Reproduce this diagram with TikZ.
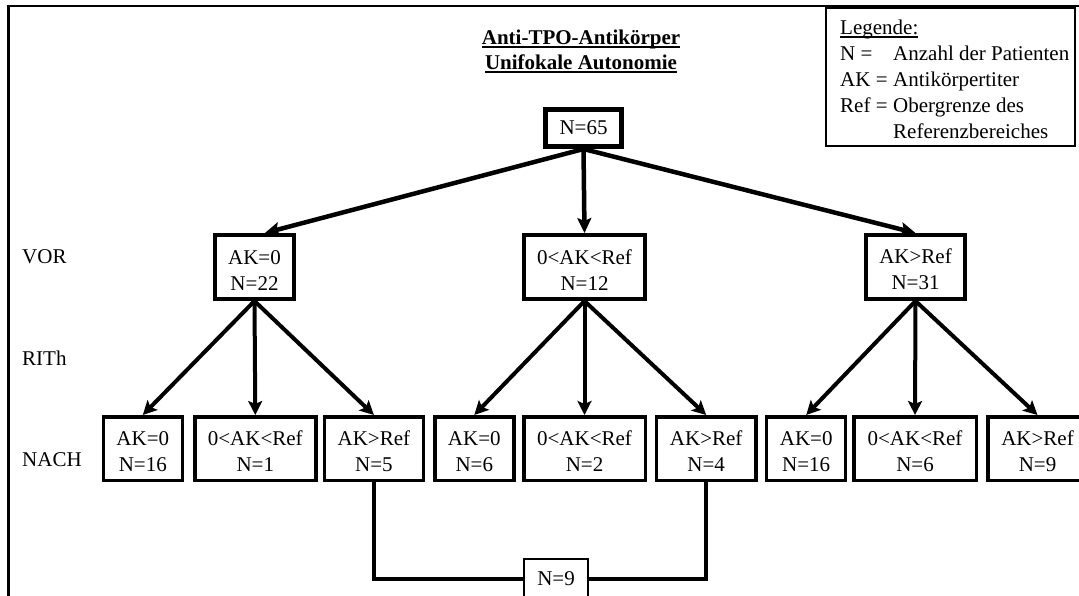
\documentclass[tikz,border=0pt]{standalone}
\usepackage{fontspec}
\setmainfont{Liberation Serif}
\usetikzlibrary{arrows.meta}
\newcommand{\fixul}[1]{\setbox0\hbox{#1}\rlap{\rule[-3.5pt]{\wd0}{1.6pt}}\box0}
\newcommand{\mystrut}{\rule{0pt}{20pt}}
\begin{document}
\begin{tikzpicture}[x=1pt,y=-1pt,
  font=\fontsize{21}{26}\selectfont,
  rootbox/.style={draw, line width=5pt, inner sep=0pt, minimum width=76pt, minimum height=37pt},
  lonebox/.style={draw, line width=4pt, inner sep=0pt, align=center, minimum height=64pt},
  ltwobox/.style={draw, line width=3.5pt, inner sep=0pt, align=center, minimum height=63.5pt},
  sumbox/.style={draw, line width=2pt, inner sep=0pt, minimum width=64pt, minimum height=40pt},
  lvl/.style={anchor=west, inner sep=0pt},
  toparrow/.style={line width=4.5pt, -{Stealth[length=15pt,width=14pt,inset=3pt]}},
  lowarrow/.style={line width=4pt, -{Stealth[length=14pt,width=14pt,inset=3pt]}},
  conn/.style={line width=3.5pt},
  legtext/.style={anchor=north west, inner sep=0pt, align=left}]
\fill[white] (0,0) rectangle (1079,595);
\useasboundingbox (0,0) rectangle (1079,595);
\clip (0,0) rectangle (1079,595);

% outer frame
\draw[line width=2.5pt] (8.3,620) -- (8.3,6) -- (1100,6);

% title
\node[anchor=base, inner sep=0pt, font=\fontsize{21}{26}\selectfont\bfseries] (t1) at (581,44) {\fixul{Anti-TPO-Antikörper}};
\node[anchor=base, inner sep=0pt, font=\fontsize{21}{26}\selectfont\bfseries] (t2) at (581,69) {\fixul{Unifokale Autonomie}};

% legend
\node[draw, fill=white, line width=2pt, inner sep=0pt, minimum width=249pt, minimum height=138pt] (legbox) at (950.5,77) {};
\node[legtext] (legtxt) at (840,19.7) {\fixul{Legende:}\\
\makebox[53pt][l]{N =}Anzahl der Patienten\\
\makebox[53pt][l]{AK =}Antikörpertiter\\
\makebox[53pt][l]{Ref =}Obergrenze des\\
\hspace*{53pt}Referenzbereiches};

% level labels
\node[lvl] (vor) at (22,257) {VOR};
\node[lvl] (rith) at (22,358) {RITh};
\node[lvl] (nach) at (22,460) {NACH};

% root
\node[rootbox] (root) at (583.5,128) {N=65};

% level 1
\node[lonebox, minimum width=79pt] (a) at (254.5,267) {\mystrut AK=0\\N=22};
\node[lonebox, minimum width=121pt] (b) at (584.5,267) {\mystrut 0<AK<Ref\\N=12};
\node[lonebox, minimum width=99pt] (c) at (915.5,267) {\mystrut AK>Ref\\N=31};

% level 2
\node[ltwobox, minimum width=79pt] (a1) at (142.8,448.5) {\mystrut AK=0\\N=16};
\node[ltwobox, minimum width=121pt] (a2) at (255.3,448.5) {\mystrut 0<AK<Ref\\N=1};
\node[ltwobox, minimum width=99pt] (a3) at (373.9,448.5) {\mystrut AK>Ref\\N=5};
\node[ltwobox, minimum width=79pt] (b1) at (474.3,448.5) {\mystrut AK=0\\N=6};
\node[ltwobox, minimum width=121.5pt] (b2) at (584.5,448.5) {\mystrut 0<AK<Ref\\N=2};
\node[ltwobox, minimum width=99.5pt] (b3) at (706.2,448.5) {\mystrut AK>Ref\\N=4};
\node[ltwobox, minimum width=79pt] (c1) at (806.2,448.5) {\mystrut AK=0\\N=16};
\node[ltwobox, minimum width=122.5pt] (c2) at (915,448.5) {\mystrut 0<AK<Ref\\N=6};
\node[ltwobox, minimum width=99.5pt] (c3) at (1037.5,448.5) {\mystrut AK>Ref\\N=9};

% sum box
\node[sumbox] (n9) at (556,579) {N=9};

% arrows
\draw[toparrow] (root.south) -- (a.73);
\draw[toparrow] (root.south) -- (b.north);
\draw[toparrow] (root.south) -- (c.north);

\draw[lowarrow] (a.south) -- (a1.north);
\draw[lowarrow] (a.south) -- (a2.north);
\draw[lowarrow] (a.south) -- (a3.north);
\draw[lowarrow] (b.south) -- (b1.north);
\draw[lowarrow] (b.south) -- (b2.north);
\draw[lowarrow] (b.south) -- (b3.north);
\draw[lowarrow] (c.south) -- (c1.north);
\draw[lowarrow] (c.south) -- (c2.north);
\draw[lowarrow] (c.south) -- (c3.north);

% connectors to sum
\draw[conn] (a3.south) |- (n9.west);
\draw[conn] (b3.south) |- (n9.east);
\end{tikzpicture}
\end{document}
